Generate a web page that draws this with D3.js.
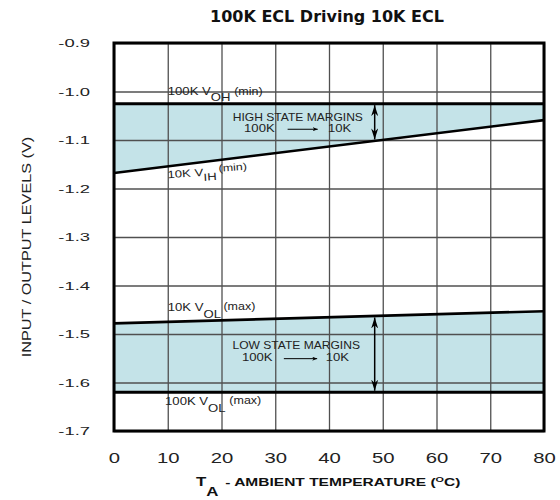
<!DOCTYPE html>
<html>
<head>
<meta charset="utf-8">
<script src="https://cdn.jsdelivr.net/npm/d3@7"></script>
<style>
  body { margin: 0; background: #fff; }
  svg { display: block; }
</style>
</head>
<body>
<div id="chart"></div>
<script>
// Data (temperature in degC, levels in volts)
const temps = [0, 80];
const voh100K = [-1.025, -1.025];   // 100K VOH (min)
const vih10K = [-1.168, -1.059];    // 10K VIH (min)
const vol10K = [-1.478, -1.453];    // 10K VOL (max)
const vol100K = [-1.62, -1.62];     // 100K VOL (max)
const marginTemp = 48.5;            // where the margin arrows are shown
const xTicks = [0, 10, 20, 30, 40, 50, 60, 70, 80];
const yTicks = [-0.9, -1.0, -1.1, -1.2, -1.3, -1.4, -1.5, -1.6, -1.7];

const W = 560, H = 500;
const margins = { top: 43, right: 16, bottom: 69, left: 114 };
const width = W - margins.left - margins.right;
const height = H - margins.top - margins.bottom;
const font = "'Liberation Sans', Arial, sans-serif";
const fillColor = "#c4e3e8";
const gridColor = "#505050";

const svg = d3.select("#chart").append("svg")
    .attr("width", W)
    .attr("height", H);
const g = svg.append("g")
    .attr("transform", `translate(${margins.left},${margins.top})`);

const x = d3.scaleLinear().domain([0, 80]).range([0, width]);
const y = d3.scaleLinear().domain([-0.9, -1.7]).range([0, height]);
// value of a straight spec line at a given temperature
const at = (vals, t) => d3.scaleLinear().domain(temps).range(vals)(t);

// Shaded margin bands
const band = d3.area().x(d => x(d.t)).y0(d => y(d.lo)).y1(d => y(d.hi));
const highRows = temps.map((t, i) => ({ t, hi: voh100K[i], lo: vih10K[i] }));
const lowRows = temps.map((t, i) => ({ t, hi: vol10K[i], lo: vol100K[i] }));
g.append("path").datum(highRows).attr("d", band).attr("fill", fillColor);
g.append("path").datum(lowRows).attr("d", band).attr("fill", fillColor);

// Grid
g.append("g")
    .attr("transform", `translate(0,${height})`)
    .call(d3.axisBottom(x).tickValues(xTicks).tickSize(-height).tickFormat(""))
    .call(s => s.select(".domain").remove())
    .selectAll("line").attr("stroke", gridColor).attr("stroke-width", 1.3);
g.append("g")
    .call(d3.axisLeft(y).tickValues(yTicks).tickSize(-width).tickFormat(""))
    .call(s => s.select(".domain").remove())
    .selectAll("line").attr("stroke", gridColor).attr("stroke-width", 1.3);

// Spec lines
const lineGen = d3.line().x(d => x(d.t)).y(d => y(d.v));
[[voh100K, 3], [vih10K, 2.6], [vol10K, 2.6], [vol100K, 3]].forEach(([vals, w]) => {
    g.append("path")
        .datum(temps.map((t, i) => ({ t, v: vals[i] })))
        .attr("d", lineGen)
        .attr("fill", "none")
        .attr("stroke", "#000")
        .attr("stroke-width", w);
});

// Frame
g.append("rect")
    .attr("width", width).attr("height", height)
    .attr("fill", "none").attr("stroke", "#000").attr("stroke-width", 3);

// Arrow heads
const defs = svg.append("defs");
function head(id, len, half) {
    defs.append("marker")
        .attr("id", id)
        .attr("viewBox", `${-len} ${-half} ${len} ${half * 2}`)
        .attr("markerUnits", "userSpaceOnUse")
        .attr("markerWidth", len).attr("markerHeight", half * 2)
        .attr("refX", 0).attr("refY", 0)
        .attr("orient", "auto-start-reverse")
        .append("path")
        .attr("d", `M0,0L${-len},${-half}L${-len * 0.7},0L${-len},${half}Z`)
        .attr("fill", "#000");
}
head("bigHead", 11, 3.5);
head("smallHead", 5, 2);

// vertical margin arrows
[[voh100K, vih10K], [vol10K, vol100K]].forEach(([a, b]) => {
    g.append("line")
        .attr("x1", x(marginTemp)).attr("x2", x(marginTemp))
        .attr("y1", y(at(a, marginTemp)) + 1.5)
        .attr("y2", y(at(b, marginTemp)) - 1.5)
        .attr("stroke", "#000").attr("stroke-width", 1.5)
        .attr("marker-start", "url(#bigHead)")
        .attr("marker-end", "url(#bigHead)");
});

// Text helper: stretched label built from tspans
function note(px, py, sx, parts, opts = {}) {
    const t = g.append("text")
        .attr("transform", `translate(${px},${py}) rotate(${opts.rot || 0}) scale(${sx},1)`)
        .attr("text-anchor", opts.anchor || "start")
        .style("font-family", font)
        .style("font-weight", opts.bold ? "bold" : "normal")
        .attr("fill", opts.color || "#222");
    parts.forEach(p => {
        t.append("tspan")
            .attr("dy", p.dy || 0)
            .attr("dx", p.dx || 0)
            .style("font-size", `${p.size}px`)
            .text(p.t);
    });
    return t;
}

// Line labels
note(x(10), y(at(voh100K, 10)) - 8.5, 1.25, [
    { t: "100K V", size: 10.5 },
    { t: "OH", size: 10.5, dy: 6 },
    { t: "(min)", size: 10, dy: -6.5, dx: 3 }
]);
note(x(10), y(at(vih10K, 10)) + 12, 1.25, [
    { t: "10K V", size: 10.5 },
    { t: "IH", size: 10.5, dy: 5 },
    { t: "(min)", size: 10, dy: -8, dx: 2 }
], { rot: -4 });
note(x(10), y(at(vol10K, 10)) - 11, 1.25, [
    { t: "10K V", size: 10.5 },
    { t: "OL", size: 10.5, dy: 7 },
    { t: "(max)", size: 10, dy: -8, dx: 2 }
]);
note(x(9.5), y(at(vol100K, 10)) + 13, 1.25, [
    { t: "100K V", size: 10.5 },
    { t: "OL", size: 10.5, dy: 7 },
    { t: "(max)", size: 10, dy: -8, dx: 3 }
]);

// Margin annotations
function marginNote(title, cx, vTitle, vRow, t100, a1, a2, t10) {
    note(x(cx), y(vTitle), 1.15, [{ t: title, size: 10.5 }], { anchor: "middle" });
    note(x(t100), y(vRow), 1.25, [{ t: "100K", size: 10.5 }]);
    note(x(t10), y(vRow), 1.25, [{ t: "10K", size: 10.5 }]);
    g.append("line")
        .attr("x1", x(a1)).attr("x2", x(a2))
        .attr("y1", y(vRow) - 2.5).attr("y2", y(vRow) - 2.5)
        .attr("stroke", "#000").attr("stroke-width", 1)
        .attr("marker-end", "url(#smallHead)");
}
marginNote("HIGH STATE MARGINS", 34.2, -1.060, -1.083, 24.2, 32.3, 37.9, 39.8);
marginNote("LOW STATE MARGINS", 33.9, -1.531, -1.556, 23.8, 31.6, 37.8, 39.4);

// Axes labels
const yAxis = g.append("g")
    .call(d3.axisLeft(y).tickValues(yTicks).tickSize(0).tickPadding(15)
        .tickFormat(d => d.toFixed(1)));
yAxis.select(".domain").remove();
yAxis.selectAll("text")
    .attr("transform", "scale(1.6,1)")
    .attr("fill", "#222")
    .style("font-family", font)
    .style("font-size", "11.5px");

const xAxis = g.append("g")
    .attr("transform", `translate(0,${height})`)
    .call(d3.axisBottom(x).tickValues(xTicks).tickSize(0).tickPadding(22)
        .tickFormat(d => d));
xAxis.select(".domain").remove();
xAxis.selectAll("text")
    .attr("transform", "scale(1.45,1)")
    .attr("fill", "#222")
    .style("font-family", font)
    .style("font-size", "14px");

// Title
svg.append("text")
    .attr("x", 327).attr("y", 22)
    .attr("text-anchor", "middle")
    .style("font-family", "'DejaVu Sans', sans-serif")
    .style("font-weight", "bold")
    .style("font-size", "16px")
    .attr("fill", "#111")
    .text("100K ECL Driving 10K ECL");

// Y axis title
svg.append("text")
    .attr("transform", "translate(31,247) rotate(-90) scale(1.3,1)")
    .attr("text-anchor", "middle")
    .style("font-family", font)
    .style("font-size", "12.5px")
    .attr("fill", "#222")
    .text("INPUT / OUTPUT LEVELS (V)");

// X axis title
const xt = svg.append("text")
    .attr("transform", "translate(196,486) scale(1.35,1)")
    .style("font-family", font)
    .style("font-weight", "bold")
    .attr("fill", "#111");
xt.append("tspan").style("font-size", "12.5px").text("T");
xt.append("tspan").style("font-size", "12.5px").attr("dy", 10).text("A");
xt.append("tspan").style("font-size", "11.5px").attr("dy", -10).attr("dx", 5).text("- AMBIENT TEMPERATURE (");
xt.append("tspan").style("font-size", "8px").attr("dy", -4).text("O");
xt.append("tspan").style("font-size", "11.5px").attr("dy", 4).text("C)");
</script>
</body>
</html>
